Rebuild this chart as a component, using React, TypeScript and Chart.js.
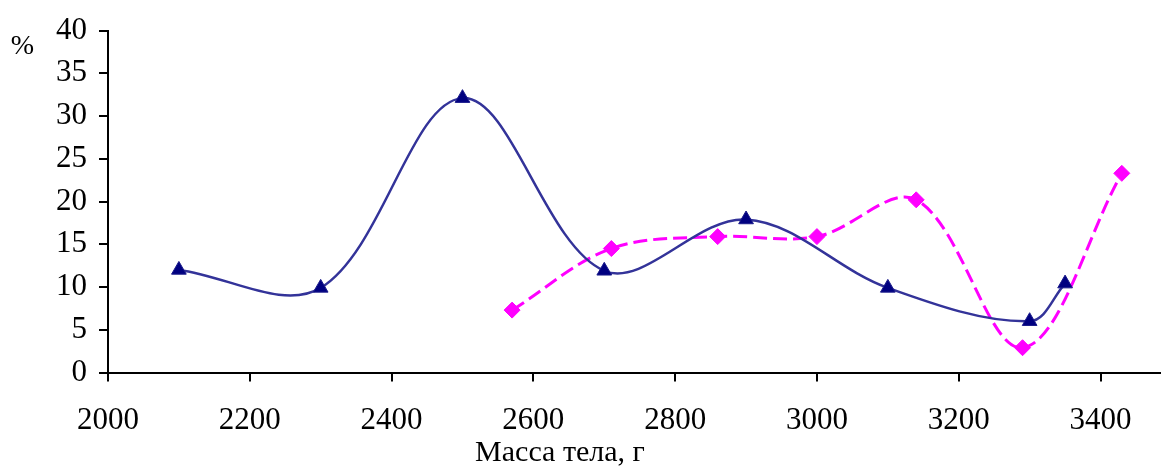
import { useEffect, useRef } from 'react';
import { Chart, registerables } from 'chart.js';

Chart.register(...registerables);

// Tick values on each axis
const massTicks = [2000, 2200, 2400, 2600, 2800, 3000, 3200, 3400];
const percentTicks = [0, 5, 10, 15, 20, 25, 30, 35, 40];

// Series 1 (solid navy line, triangle markers)
const seriesAMass = [2100, 2300, 2500, 2700, 2900, 3100, 3300, 3350];
const seriesAPercent = [12, 9.9, 32.1, 11.9, 17.9, 9.9, 6, 10.4];

// Series 2 (dashed magenta line, diamond markers)
const seriesBMass = [2570, 2710, 2860, 3000, 3140, 3290, 3430];
const seriesBPercent = [7.3, 14.5, 15.9, 15.9, 20.2, 2.9, 23.3];

const xTitle = 'Масса тела, г';
const yTitle = '%';

const FONT = '"Liberation Serif", "Times New Roman", serif';

const axisTitles = {
  id: 'axisTitles',
  afterDraw(chart: any) {
    const ctx = chart.ctx;
    ctx.save();
    ctx.fillStyle = '#000';
    ctx.textAlign = 'center';
    ctx.textBaseline = 'alphabetic';
    ctx.font = `30px ${FONT}`;
    ctx.fillText(xTitle, 560, 461);
    ctx.font = `28px ${FONT}`;
    ctx.fillText(yTitle, 22.5, 54);
    ctx.restore();
  },
};

export default function App() {
  const canvasRef = useRef<HTMLCanvasElement | null>(null);

  useEffect(() => {
    const canvas = canvasRef.current;
    if (!canvas) return;
    const toPoints = (xs: number[], ys: number[]) => xs.map((x, i) => ({ x, y: ys[i] }));

    const tickFont = { family: FONT, size: 31 };
    const chart = new Chart(canvas, {
      type: 'line',
      data: {
        datasets: [
          {
            data: toPoints(seriesAMass, seriesAPercent),
            borderColor: '#333399',
            borderWidth: 2.5,
            pointStyle: 'triangle',
            pointRadius: 8.5,
            pointBackgroundColor: '#000080',
            pointBorderColor: '#1a1a8a',
            pointBorderWidth: 1,
            tension: 0.35,
            fill: false,
          },
          {
            data: toPoints(seriesBMass, seriesBPercent),
            borderColor: '#FF00FF',
            borderWidth: 3,
            borderDash: [14, 6],
            pointStyle: 'rectRot',
            pointRadius: 8,
            pointBackgroundColor: '#FF00FF',
            pointBorderColor: '#FF00FF',
            pointBorderWidth: 1,
            tension: 0.35,
            fill: false,
          },
        ],
      },
      options: {
        responsive: false,
        animation: false,
        events: [],
        layout: { padding: { left: 0, right: 0, top: 29, bottom: 0 } },
        plugins: {
          legend: { display: false },
          tooltip: { enabled: false },
        },
        scales: {
          x: {
            type: 'linear',
            min: 2000,
            max: 3486,
            afterBuildTicks: (scale: any) => {
              scale.ticks = massTicks.map((value) => ({ value }));
            },
            afterFit: (scale: any) => {
              scale.height = 93.5;
            },
            grid: {
              drawOnChartArea: false,
              drawTicks: true,
              tickLength: 9,
              color: '#000',
              lineWidth: 2,
            },
            border: { display: true, color: '#000', width: 2 },
            ticks: {
              color: '#000',
              font: tickFont,
              padding: 21,
              maxRotation: 0,
              autoSkip: false,
              callback: (value: any) => String(value),
            },
          },
          y: {
            type: 'linear',
            min: 0,
            max: 40,
            afterBuildTicks: (scale: any) => {
              scale.ticks = percentTicks.map((value) => ({ value }));
            },
            afterFit: (scale: any) => {
              scale.width = 108;
            },
            grid: {
              drawOnChartArea: false,
              drawTicks: true,
              tickLength: 9,
              color: '#000',
              lineWidth: 2,
            },
            border: { display: true, color: '#000', width: 2 },
            ticks: {
              color: '#000',
              font: tickFont,
              padding: 12,
              autoSkip: false,
              callback: (value: any) => String(value),
            },
          },
        },
      },
      plugins: [axisTitles],
    } as any);

    return () => chart.destroy();
  }, []);

  return (
    <div
      style={{
        position: 'fixed',
        left: 0,
        top: 0,
        width: 1161,
        height: 466,
        overflow: 'hidden',
        background: '#fff',
      }}
    >
      <canvas ref={canvasRef} width={1171} height={466} style={{ display: 'block' }} />
    </div>
  );
}
